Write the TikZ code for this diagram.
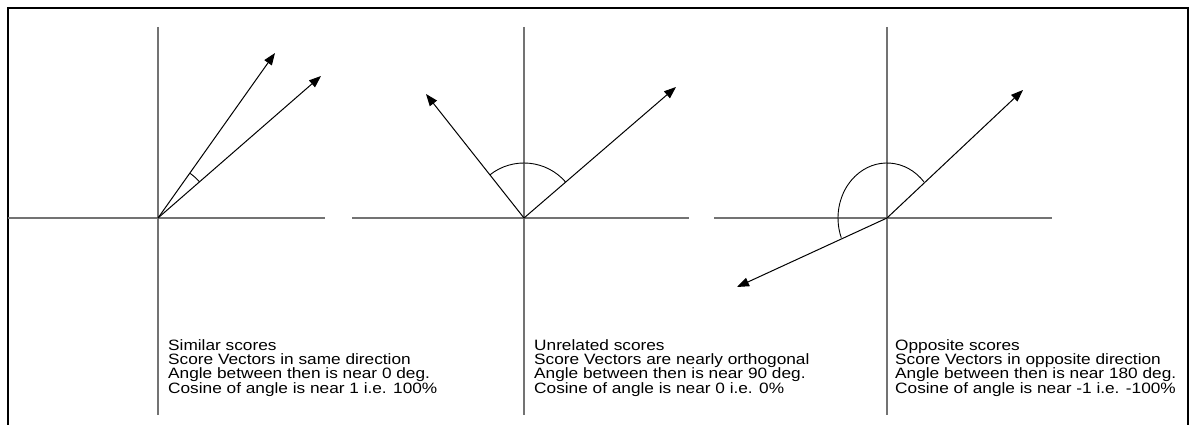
\documentclass[tikz,border=0pt]{standalone}
\usepackage{fontspec}
\newfontfamily\lab[FakeStretch=1.15]{Liberation Sans}
\usetikzlibrary{arrows.meta}
\begin{document}
\begin{tikzpicture}[x=1pt,y=1pt,
 axis/.style={draw=black!55, line width=1.4pt},
 vec/.style={draw=black, line width=1pt, -{Triangle[length=12pt,width=9pt]}},
 anglearc/.style={draw=black, line width=0.9pt},
 caption/.style={anchor=north west, inner sep=0pt, align=left, font=\lab\fontsize{15}{14.4}\selectfont}]
\useasboundingbox (0,0) rectangle (1192,-425);
\draw[line width=2pt] (7.7,-425) -- (7.7,-7.7) -- (1188,-7.7) -- (1188,-425);
% origins
\coordinate (o1) at (158,-218);
\coordinate (o2) at (524,-218);
\coordinate (o3) at (887,-218);
% axis ends
\coordinate (h1a) at (7.7,-218); \coordinate (h1b) at (325,-218);
\coordinate (h2a) at (352,-218); \coordinate (h2b) at (689,-218);
\coordinate (h3a) at (714,-218); \coordinate (h3b) at (1052,-218);
\coordinate (v1a) at (158,-27); \coordinate (v1b) at (158,-415);
\coordinate (v2a) at (524,-27); \coordinate (v2b) at (524,-415);
\coordinate (v3a) at (887,-27); \coordinate (v3b) at (887,-415);
% tips
\coordinate (p1a) at (275,-53);
\coordinate (p1b) at (321,-76);
\coordinate (p2a) at (426,-94);
\coordinate (p2b) at (676,-87);
\coordinate (p3a) at (1023,-90);
\coordinate (p3b) at (737,-287);
% axes
\draw[axis] (h1a) -- (h1b); \draw[axis] (v1a) -- (v1b);
\draw[axis] (h2a) -- (h2b); \draw[axis] (v2a) -- (v2b);
\draw[axis] (h3a) -- (h3b); \draw[axis] (v3a) -- (v3b);
% vectors
\draw[vec] (o1) -- (p1a);
\draw[vec] (o1) -- (p1b);
\draw[vec] (o2) -- (p2a);
\draw[vec] (o2) -- (p2b);
\draw[vec] (o3) -- (p3a);
\draw[vec] (o3) -- (p3b);
% angle arcs
\draw[anglearc] ([shift={(41.1:55)}]o1) arc[start angle=41.1, end angle=54.7, radius=55];
\draw[anglearc] ([shift={(40.8:55)}]o2) arc[start angle=40.8, end angle=128.3, radius=55];
\draw[anglearc] ([shift={(41:49 and 55)}]o3) arc[start angle=41, end angle=201, x radius=49, y radius=55];
% captions
\node[caption] (t1) at (168,-339) {Similar scores\\Score Vectors in same direction\\Angle between then is near 0 deg.\\Cosine of angle is near 1 i.e. 100\%};
\node[caption] (t2) at (534,-339) {Unrelated scores\\Score Vectors are nearly orthogonal\\Angle between then is near 90 deg.\\Cosine of angle is near 0 i.e. 0\%};
\node[caption] (t3) at (895,-339) {Opposite scores\\Score Vectors in opposite direction\\Angle between then is near 180 deg.\\Cosine of angle is near -1 i.e. -100\%};
\end{tikzpicture}
\end{document}
